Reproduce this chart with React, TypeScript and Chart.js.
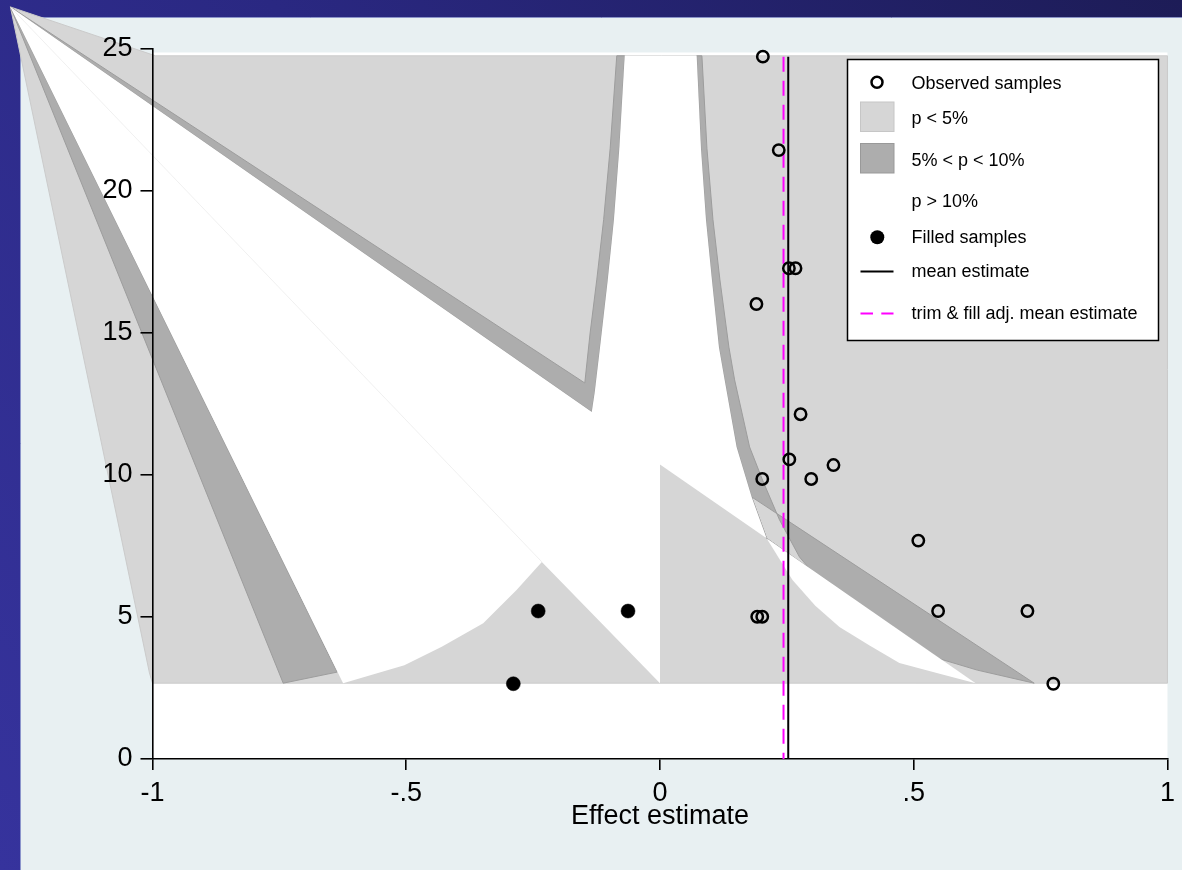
import React, { useEffect, useRef } from 'react';
import { Chart, registerables } from 'chart.js';

Chart.register(...registerables);

type Pt = [number, number];

// Axis ticks
const xTickValues = [-1, -0.5, 0, 0.5, 1];
const xTickLabels = ['-1', '-.5', '0', '.5', '1'];
const yTickValues = [0, 5, 10, 15, 20, 25];

// Observed samples (effect estimate, precision)
const observedEffect = [0.2027, 0.234, 0.254, 0.267, 0.19, 0.277, 0.2548, 0.3418, 0.2015, 0.298, 0.509, 0.548, 0.724, 0.1916, 0.2015, 0.775];
const observedPrecision = [24.73, 21.44, 17.28, 17.28, 16.02, 12.14, 10.55, 10.35, 9.86, 9.86, 7.69, 5.21, 5.21, 5.01, 5.01, 2.65];

// Filled samples from trim & fill
const filledEffect = [-0.24, -0.063, -0.289];
const filledPrecision = [5.21, 5.21, 2.65];

// Pooled estimates
const meanEstimate = 0.2527;
const trimFillEstimate = 0.2434;
const maxPrecision = 24.73;

// White plot region
const plotRegion: Pt[] = [[-1, 0], [1, 0], [1, 24.88], [-1, 24.88]];

// p < 5% shading
const shadeP05: Pt[] = [
  [-1.28, 26.48], [-0.994, 24.76], [1, 24.76], [1, 2.67], [-1, 2.67], [-1.006, 3.03],
];

// 5% < p < 10% shading
const shadeP10Left: Pt[] = [[-1.28, 26.48], [-0.7424, 2.67], [-0.6362, 3.06]];
const shadeP10Upper: Pt[] = [
  [-1.28, 26.48], [-0.1344, 12.22], [-0.1285, 12.92], [-0.1181, 14.5], [-0.1029, 16.87],
  [-0.0907, 19.0], [-0.0801, 21.5], [-0.0695, 24.76],
  [-0.0852, 24.76], [-0.0982, 21.5], [-0.111, 19.0], [-0.1246, 16.87], [-0.1377, 15.0], [-0.1482, 13.24],
];
const shadeP10RightCurve: Pt[] = [
  [0.0722, 24.76], [0.0807, 21.5], [0.0905, 19.0], [0.1023, 16.87], [0.1161, 14.5], [0.1273, 13.35],
  [0.1509, 10.99], [0.1804, 9.23], [0.21, 7.77],
  [0.2946, 6.7],
  [0.2749, 7.11], [0.2355, 8.42], [0.2021, 9.82], [0.1765, 10.99], [0.147, 13.35], [0.1358, 14.5],
  [0.1181, 16.87], [0.1043, 19.0], [0.0925, 21.5], [0.0826, 24.76],
];
const shadeP10RightDiag: Pt[] = [
  [0.1804, 9.23], [0.7373, 2.67], [0.6251, 3.13], [0.5504, 3.53], [0.21, 7.77],
];

// p > 10% shading
const clearMain: Pt[] = [
  [-1.28, 26.48], [-0.6244, 2.67], [-0.5037, 3.3], [-0.43, 3.95], [-0.3483, 4.78], [-0.2826, 5.95], [-0.2328, 6.94],
  [0, 2.67], [0, 10.37], [0.21, 7.77],
  [0.1804, 9.23], [0.1509, 10.99], [0.1273, 13.35], [0.1161, 14.5], [0.1023, 16.87], [0.0905, 19.0],
  [0.0807, 21.5], [0.0722, 24.76],
  [-0.0695, 24.76], [-0.0801, 21.5], [-0.0907, 19.0], [-0.1029, 16.87], [-0.1181, 14.5], [-0.1285, 12.92],
  [-0.1344, 12.22],
];
const clearCrescent: Pt[] = [
  [0.21, 7.77], [0.2611, 6.3], [0.306, 5.4], [0.3536, 4.65], [0.413, 4.0], [0.4717, 3.38], [0.551, 3.0], [0.622, 2.67],
];
const clearSeam: Pt[] = [[-1.28, 26.48], [-0.2328, 6.94]];

const FONT = '"Liberation Sans", Arial, Helvetica, sans-serif';
const LIGHT = '#d6d6d6';
const DARK = '#adadad';
const MAGENTA = '#ff00ff';

const shadingPlugin = {
  id: 'contourShading',
  beforeDraw(chart: any) {
    const { ctx, width, height } = chart;
    const xs = chart.scales.x;
    const ys = chart.scales.y;
    const px = (p: Pt) => [xs.getPixelForValue(p[0]), ys.getPixelForValue(p[1])];

    ctx.save();
    // slide frame and graph region
    const g = ctx.createLinearGradient(0, height, width, 0);
    g.addColorStop(0, '#36339d');
    g.addColorStop(0.5, '#2a2882');
    g.addColorStop(1, '#1d1c57');
    ctx.fillStyle = g;
    ctx.fillRect(0, 0, width, height);
    ctx.fillStyle = '#e8f0f2';
    ctx.fillRect(21, 18, width - 21, height - 18);
    ctx.strokeStyle = 'rgba(150,160,210,0.9)';
    ctx.lineWidth = 1;
    ctx.beginPath();
    ctx.moveTo(20.5, height);
    ctx.lineTo(20.5, 17.5);
    ctx.lineTo(width, 17.5);
    ctx.stroke();

    const trace = (pts: Pt[]) => {
      pts.forEach((p, i) => {
        const [x, y] = px(p);
        if (i === 0) ctx.moveTo(x, y);
        else ctx.lineTo(x, y);
      });
      ctx.closePath();
    };
    const fillPoly = (polys: Pt[][], fill: string, stroke?: string, rule: 'nonzero' | 'evenodd' = 'nonzero') => {
      ctx.beginPath();
      polys.forEach(trace);
      ctx.fillStyle = fill;
      ctx.fill(rule);
      if (stroke) {
        ctx.strokeStyle = stroke;
        ctx.lineWidth = 1;
        ctx.stroke();
      }
    };

    fillPoly([plotRegion], '#ffffff');
    fillPoly([shadeP05], LIGHT, '#cbcbcb');
    fillPoly([shadeP10Left], DARK, '#9d9d9d');
    fillPoly([shadeP10Upper], DARK, '#9d9d9d');
    fillPoly([shadeP10RightCurve, shadeP10RightDiag], DARK, '#9d9d9d', 'evenodd');
    fillPoly([clearMain], '#ffffff');
    fillPoly([clearCrescent], '#ffffff');

    // faint seam between the white areas
    ctx.beginPath();
    const [sx0, sy0] = px(clearSeam[0]);
    const [sx1, sy1] = px(clearSeam[1]);
    ctx.moveTo(sx0, sy0);
    ctx.lineTo(sx1, sy1);
    ctx.strokeStyle = '#ececec';
    ctx.lineWidth = 0.8;
    ctx.stroke();
    ctx.restore();
  },
};

const legendPlugin = {
  id: 'funnelLegend',
  afterDraw(chart: any) {
    const { ctx } = chart;
    ctx.save();
    ctx.fillStyle = '#ffffff';
    ctx.fillRect(847.5, 59.5, 311, 281);
    ctx.strokeStyle = '#000';
    ctx.lineWidth = 1.5;
    ctx.strokeRect(847.5, 59.5, 311, 281);

    const sx = 877;
    const tx = 911.5;
    ctx.font = `18px ${FONT}`;
    ctx.textAlign = 'left';
    ctx.textBaseline = 'alphabetic';
    ctx.fillStyle = '#000';
    const entries = [
      { text: 'Observed samples', base: 89 },
      { text: 'p < 5%', base: 124 },
      { text: '5% < p < 10%', base: 165.5 },
      { text: 'p > 10%', base: 206.5 },
      { text: 'Filled samples', base: 242.5 },
      { text: 'mean estimate', base: 276.5 },
      { text: 'trim & fill adj. mean estimate', base: 319 },
    ];
    entries.forEach((e) => ctx.fillText(e.text, tx, e.base));

    // observed marker
    ctx.beginPath();
    ctx.arc(sx, 82.3, 5.5, 0, Math.PI * 2);
    ctx.strokeStyle = '#000';
    ctx.lineWidth = 2.5;
    ctx.stroke();
    // swatches
    ctx.fillStyle = LIGHT;
    ctx.fillRect(860.5, 102, 33.5, 29.5);
    ctx.strokeStyle = '#c6c6c6';
    ctx.lineWidth = 1;
    ctx.strokeRect(860.5, 102, 33.5, 29.5);
    ctx.fillStyle = DARK;
    ctx.fillRect(860.5, 143.5, 33.5, 29.5);
    ctx.strokeStyle = '#999999';
    ctx.strokeRect(860.5, 143.5, 33.5, 29.5);
    // filled marker
    ctx.beginPath();
    ctx.arc(sx + 0.3, 237.3, 7, 0, Math.PI * 2);
    ctx.fillStyle = '#000';
    ctx.fill();
    // mean line
    ctx.beginPath();
    ctx.moveTo(860.5, 271.5);
    ctx.lineTo(893.5, 271.5);
    ctx.strokeStyle = '#000';
    ctx.lineWidth = 2;
    ctx.stroke();
    // trim & fill line
    ctx.beginPath();
    ctx.setLineDash([12.5, 8.3]);
    ctx.moveTo(860.5, 313.5);
    ctx.lineTo(893.5, 313.5);
    ctx.strokeStyle = MAGENTA;
    ctx.stroke();
    ctx.restore();
  },
};

export default function App() {
  const canvasRef = useRef<HTMLCanvasElement | null>(null);

  useEffect(() => {
    const canvas = canvasRef.current;
    if (!canvas) return;

    const observed = observedEffect.map((x, i) => ({ x, y: observedPrecision[i] }));
    const filled = filledEffect.map((x, i) => ({ x, y: filledPrecision[i] }));

    const chart = new Chart(canvas, {
      type: 'scatter',
      data: {
        datasets: [
          {
            label: 'Observed samples',
            data: observed,
            pointRadius: 5.7,
            pointBorderWidth: 2.5,
            pointBorderColor: '#000',
            pointBackgroundColor: 'rgba(0,0,0,0)',
            clip: false,
          },
          {
            label: 'Filled samples',
            data: filled,
            pointRadius: 7,
            pointBorderWidth: 0.5,
            pointBorderColor: '#000',
            pointBackgroundColor: '#000',
            clip: false,
          },
          {
            label: 'mean estimate',
            data: [{ x: meanEstimate, y: maxPrecision }, { x: meanEstimate, y: 0 }],
            showLine: true,
            borderColor: '#000',
            borderWidth: 2,
            pointRadius: 0,
          },
          {
            label: 'trim & fill adj. mean estimate',
            data: [{ x: trimFillEstimate, y: maxPrecision }, { x: trimFillEstimate, y: 0 }],
            showLine: true,
            borderColor: MAGENTA,
            borderWidth: 2,
            borderDash: [15, 9],
            pointRadius: 0,
          },
        ],
      },
      options: {
        animation: false,
        responsive: false,
        devicePixelRatio: 1,
        layout: { padding: { left: 0, top: 49, right: 13.5, bottom: 0 } },
        plugins: { legend: { display: false }, tooltip: { enabled: false } },
        scales: {
          x: {
            type: 'linear',
            min: -1,
            max: 1,
            afterBuildTicks: (s: any) => {
              s.ticks = xTickValues.map((value) => ({ value }));
            },
            afterFit: (s: any) => {
              s.height = 111;
            },
            ticks: {
              callback: (v: any) => xTickLabels[xTickValues.indexOf(Number(v))] ?? '',
              font: { family: FONT, size: 27 },
              color: '#000',
              padding: 7,
              maxRotation: 0,
              autoSkip: false,
            },
            grid: { drawOnChartArea: false, drawTicks: true, tickLength: 11, color: '#000', lineWidth: 1.6 },
            border: { display: true, color: '#000', width: 1.6 },
            title: {
              display: true,
              text: 'Effect estimate',
              font: { family: FONT, size: 27 },
              color: '#000',
              padding: { top: 0, bottom: 37 },
            },
          },
          y: {
            type: 'linear',
            min: 0,
            max: 25,
            afterBuildTicks: (s: any) => {
              s.ticks = yTickValues.map((value) => ({ value }));
            },
            afterFit: (s: any) => {
              s.width = 152.5;
            },
            ticks: {
              font: { family: FONT, size: 27 },
              color: '#000',
              padding: 8,
              autoSkip: false,
            },
            grid: { drawOnChartArea: false, drawTicks: true, tickLength: 12, color: '#000', lineWidth: 1.6 },
            border: { display: true, color: '#000', width: 1.6 },
          },
        },
      },
      plugins: [shadingPlugin, legendPlugin],
    });

    return () => chart.destroy();
  }, []);

  return (
    <div style={{ position: 'absolute', left: 0, top: 0, width: 1182, height: 870 }}>
      <canvas ref={canvasRef} width={1182} height={870} style={{ display: 'block' }} />
    </div>
  );
}
